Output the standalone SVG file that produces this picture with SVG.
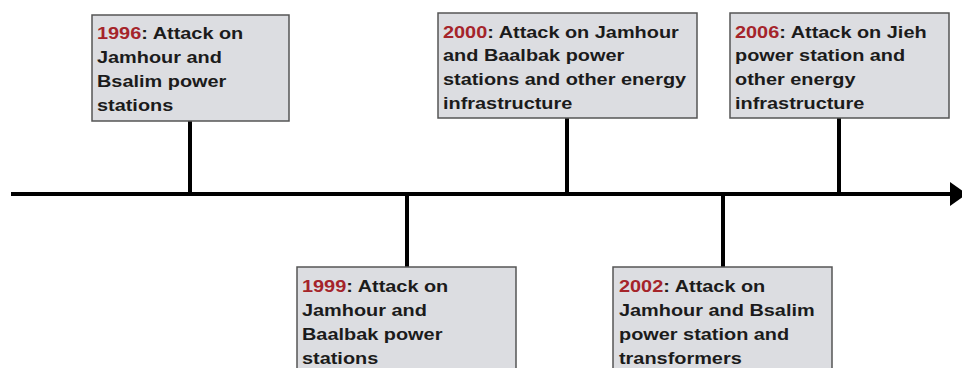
<svg xmlns="http://www.w3.org/2000/svg" width="962" height="368" viewBox="0 0 962 368">
<style>
.box{fill:#dcdde1;stroke:#555;stroke-width:1.5}
.t{font-family:"Liberation Sans",Arial,sans-serif;font-weight:bold;font-size:17px;fill:#1b1b1b}
.yr{fill:#a5242a}
.ln{stroke:#000;stroke-width:4;fill:none}
</style>
<g id="connectors">
<line class="ln" x1="11" y1="194" x2="952" y2="194"/>
<polygon points="950,182 950,206 967,194" fill="#000"/>
<line class="ln" x1="190" y1="121" x2="190" y2="194"/>
<line class="ln" x1="407" y1="194" x2="407" y2="267"/>
<line class="ln" x1="567" y1="118" x2="567" y2="194"/>
<line class="ln" x1="723" y1="194" x2="723" y2="267"/>
<line class="ln" x1="839" y1="118" x2="839" y2="194"/>
</g>
<g id="n1996">
<rect class="box" x="92" y="15" width="197" height="106"/>
<text class="t" transform="translate(97,39) scale(1.17,1)"><tspan class="yr">1996</tspan>: Attack on<tspan x="0" dy="24">Jamhour and</tspan><tspan x="0" dy="24">Bsalim power</tspan><tspan x="0" dy="24">stations</tspan></text>
</g>
<g id="n1999">
<rect class="box" x="297" y="267" width="219" height="115"/>
<text class="t" transform="translate(302,292) scale(1.17,1)"><tspan class="yr">1999</tspan>: Attack on<tspan x="0" dy="24">Jamhour and</tspan><tspan x="0" dy="24">Baalbak power</tspan><tspan x="0" dy="24">stations</tspan></text>
</g>
<g id="n2000">
<rect class="box" x="438" y="13" width="259" height="105"/>
<text class="t" transform="translate(443,37.5) scale(1.17,1)"><tspan class="yr">2000</tspan>: Attack on Jamhour<tspan x="0" dy="24">and Baalbak power</tspan><tspan x="0" dy="24">stations and other energy</tspan><tspan x="0" dy="24">infrastructure</tspan></text>
</g>
<g id="n2002">
<rect class="box" x="613" y="267" width="219" height="115"/>
<text class="t" transform="translate(619,292) scale(1.17,1)"><tspan class="yr">2002</tspan>: Attack on<tspan x="0" dy="24">Jamhour and Bsalim</tspan><tspan x="0" dy="24">power station and</tspan><tspan x="0" dy="24">transformers</tspan></text>
</g>
<g id="n2006">
<rect class="box" x="730" y="13" width="219" height="105"/>
<text class="t" transform="translate(735,37.5) scale(1.17,1)"><tspan class="yr">2006</tspan>: Attack on Jieh<tspan x="0" dy="24">power station and</tspan><tspan x="0" dy="24">other energy</tspan><tspan x="0" dy="24">infrastructure</tspan></text>
</g>
</svg>
